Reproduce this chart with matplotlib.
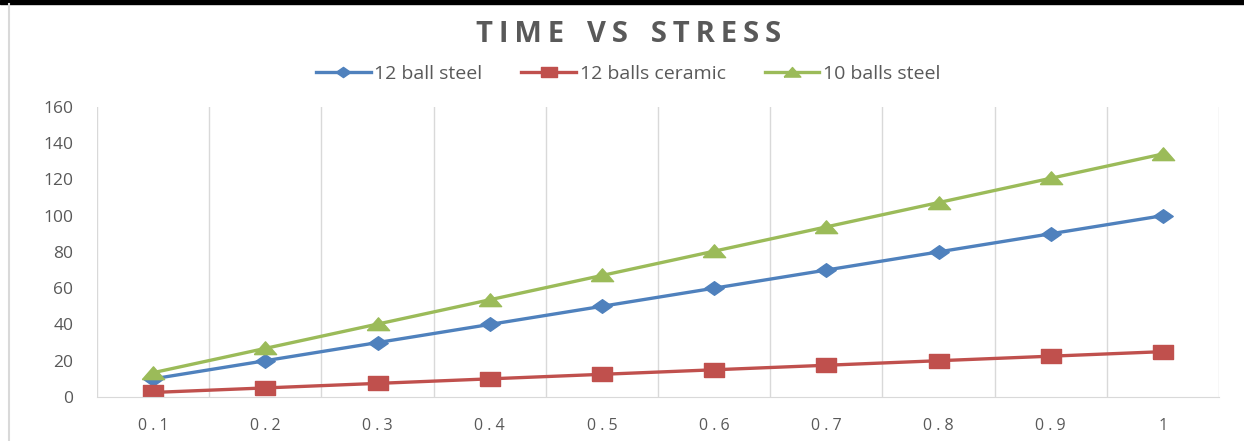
import matplotlib.pyplot as plt
import numpy as np

# stress categories and time series
categories    = ['0.1', '0.2', '0.3', '0.4', '0.5', '0.6', '0.7', '0.8', '0.9', '1']
steel_12      = [10, 20, 30, 40, 50, 60, 70, 80, 90, 100]
ceramic_12    = [2.5, 5, 7.5, 10, 12.5, 15, 17.5, 20, 22.5, 25]
steel_10      = [13.4, 26.8, 40.2, 53.6, 67, 80.4, 93.8, 107.2, 120.6, 134]

TEXT_GREY = '#595959'
GRID_GREY = '#D9D9D9'

plt.rcParams['font.family'] = ['Open Sans', 'DejaVu Sans']

# slightly wide marker shapes
diamond  = [(-1, 0), (0, 0.7), (1, 0), (0, -0.7), (-1, 0)]
square   = [(-1, -0.65), (1, -0.65), (1, 0.65), (-1, 0.65), (-1, -0.65)]
triangle = [(-1, -0.55), (1, -0.55), (0, 0.6), (-1, -0.55)]

fig = plt.figure(figsize=(12.44, 4.41), dpi=100)
ax = fig.add_axes([0.078, 0.0998, 0.902, 0.658])

x = np.arange(len(categories))
ax.plot(x, steel_12, color='#4F81BD', lw=2.4, marker=diamond, ms=14, label='12 ball steel')
ax.plot(x, ceramic_12, color='#C0504D', lw=2.4, marker=square, ms=15, label='12 balls ceramic')
ax.plot(x, steel_10, color='#9BBB59', lw=2.4, marker=triangle, ms=16, label='10 balls steel')

ax.set_xlim(-0.5, len(categories) - 0.5)
ax.set_ylim(0, 160)
ax.set_yticks(range(0, 161, 20))
ax.set_xticks(x)
ax.set_xticklabels([' '.join(c) for c in categories])

# vertical gridlines between categories
ax.set_xticks(np.arange(-0.5, len(categories)), minor=True)
ax.grid(which='minor', axis='x', color=GRID_GREY, lw=1)
ax.tick_params(which='both', length=0)
ax.tick_params(axis='x', pad=15, labelsize=11.5, labelcolor=TEXT_GREY)
ax.tick_params(axis='y', pad=17, labelsize=12.5, labelcolor=TEXT_GREY)

for side in ['top', 'left', 'right']:
    ax.spines[side].set_visible(False)
ax.spines['bottom'].set_color(GRID_GREY)

title = '\u2009'.join('TIME') + '   ' + '\u2009'.join('VS') + '   ' + '\u2009'.join('STRESS')
fig.text(0.505, 0.922, title, ha='center', va='center',
         fontsize=21, fontweight='bold', color=TEXT_GREY)

fig.legend(loc='center', bbox_to_anchor=(0.505, 0.832), ncol=3, frameon=False,
           fontsize=14, labelcolor=TEXT_GREY, handlelength=2.8, columnspacing=2.0,
           handletextpad=0.2, markerscale=0.75)

# black band on top and thin frame line on the left
fig.add_artist(plt.Rectangle((0, 0.99), 1, 0.01, transform=fig.transFigure,
                             color='black'))
fig.add_artist(plt.Line2D([0.0075, 0.0075], [0, 0.99], transform=fig.transFigure,
                          color=GRID_GREY, lw=1.5))

fig.savefig('out.png', dpi=100)
